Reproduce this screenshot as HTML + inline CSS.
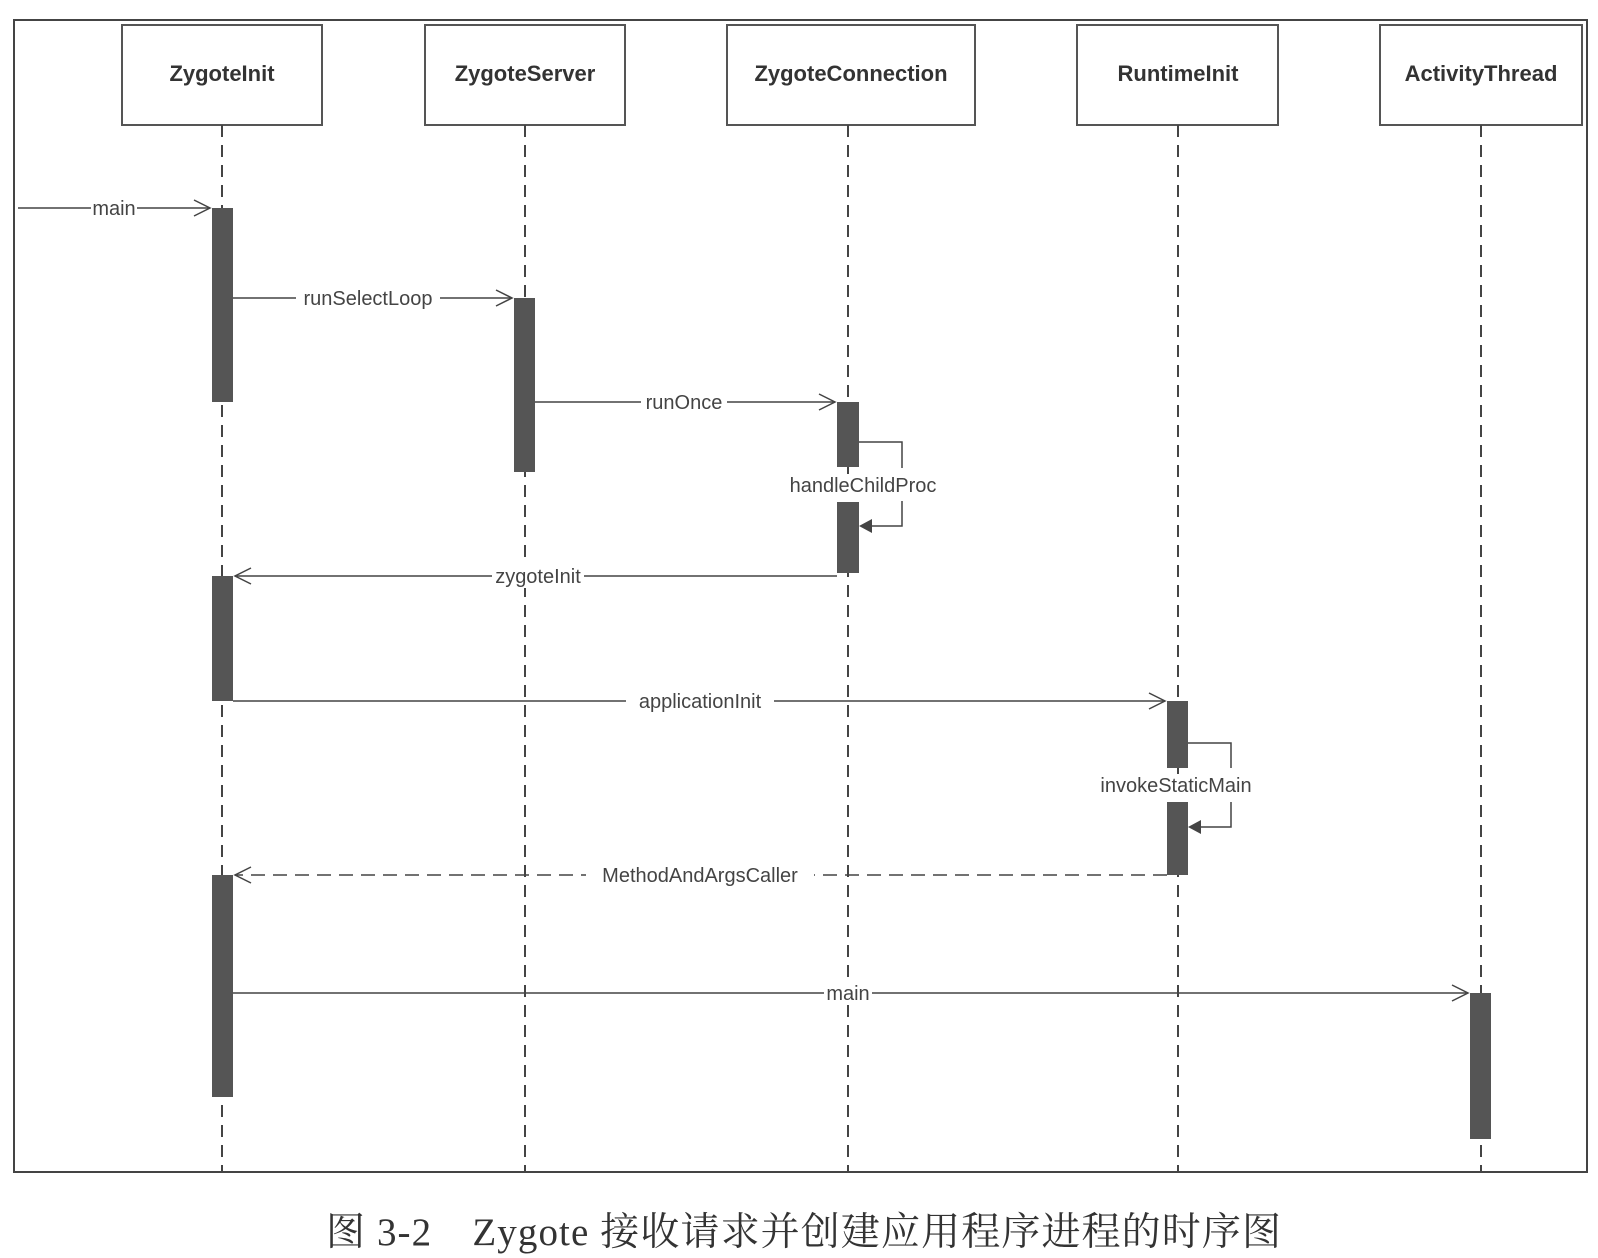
<!DOCTYPE html>
<html><head><meta charset="utf-8"><style>
html,body{margin:0;padding:0;background:#fff;}
svg{display:block;}
.h{font-family:"Liberation Sans",sans-serif;font-weight:bold;font-size:22px;fill:#333;}
.l{font-family:"Liberation Sans",sans-serif;font-size:20px;fill:#444;}
</style></head><body>
<svg width="1598" height="1258" viewBox="0 0 1598 1258" xmlns="http://www.w3.org/2000/svg">
<rect x="0" y="0" width="1598" height="1258" fill="#fff"/>
<rect x="14" y="20" width="1573" height="1152" fill="none" stroke="#444" stroke-width="2"/>
<g fill="#fff" stroke="#555" stroke-width="2">
<rect x="122" y="25" width="200" height="100"/>
<rect x="425" y="25" width="200" height="100"/>
<rect x="727" y="25" width="248" height="100"/>
<rect x="1077" y="25" width="201" height="100"/>
<rect x="1380" y="25" width="202" height="100"/>
</g>
<g class="h" text-anchor="middle">
<text x="222" y="81">ZygoteInit</text>
<text x="525" y="81">ZygoteServer</text>
<text x="851" y="81">ZygoteConnection</text>
<text x="1178" y="81">RuntimeInit</text>
<text x="1481" y="81">ActivityThread</text>
</g>
<g stroke="#444" stroke-width="2" stroke-dasharray="12,8">
<line x1="222" y1="125" x2="222" y2="1172"/>
<line x1="525" y1="125" x2="525" y2="1172"/>
<line x1="848" y1="125" x2="848" y2="1172"/>
<line x1="1178" y1="125" x2="1178" y2="1172"/>
<line x1="1481" y1="125" x2="1481" y2="1172"/>
</g>
<g fill="#555">
<rect x="212" y="208" width="21" height="194"/>
<rect x="212" y="576" width="21" height="125"/>
<rect x="212" y="875" width="21" height="222"/>
<rect x="514" y="298" width="21" height="174"/>
<rect x="837" y="402" width="22" height="65"/>
<rect x="837" y="502" width="22" height="71"/>
<rect x="1167" y="701" width="21" height="67"/>
<rect x="1167" y="802" width="21" height="73"/>
<rect x="1470" y="993" width="21" height="146"/>
</g>
<g stroke="#444" stroke-width="1.5" fill="none">
<line x1="18" y1="208" x2="210" y2="208"/><polyline points="194,200 210,208 194,216"/>
<line x1="233" y1="298" x2="512" y2="298"/><polyline points="496,290 512,298 496,306"/>
<line x1="535" y1="402" x2="835" y2="402"/><polyline points="819,394 835,402 819,410"/>
<polyline points="859,442 902,442 902,468"/><polyline points="902,501 902,526 870,526"/>
<line x1="837" y1="576" x2="235" y2="576"/><polyline points="251,568 235,576 251,584"/>
<line x1="233" y1="701" x2="1165" y2="701"/><polyline points="1149,693 1165,701 1149,709"/>
<polyline points="1188,743 1231,743 1231,768"/><polyline points="1231,802 1231,827 1200,827"/>
<line x1="1167" y1="875" x2="235" y2="875" stroke-dasharray="14,8"/><polyline points="251,867 235,875 251,883"/>
<line x1="233" y1="993" x2="1468" y2="993"/><polyline points="1452,985 1468,993 1452,1001"/>
</g>
<polygon points="859,526 872,519 872,533" fill="#444"/>
<polygon points="1188,827 1201,820 1201,834" fill="#444"/>
<g class="l" text-anchor="middle">
<rect x="91" y="196" width="46" height="24" fill="#fff"/><text x="114" y="215">main</text>
<rect x="296" y="286" width="144" height="24" fill="#fff"/><text x="368" y="305">runSelectLoop</text>
<rect x="641" y="390" width="86" height="24" fill="#fff"/><text x="684" y="409">runOnce</text>
<rect x="780" y="474" width="166" height="24" fill="#fff"/><text x="863" y="492">handleChildProc</text>
<rect x="492" y="564" width="92" height="24" fill="#fff"/><text x="538" y="583">zygoteInit</text>
<rect x="626" y="689" width="148" height="24" fill="#fff"/><text x="700" y="708">applicationInit</text>
<rect x="1096" y="774" width="162" height="24" fill="#fff"/><text x="1176" y="792">invokeStaticMain</text>
<rect x="586" y="863" width="228" height="24" fill="#fff"/><text x="700" y="882">MethodAndArgsCaller</text>
<rect x="824" y="981" width="48" height="24" fill="#fff"/><text x="848" y="1000">main</text>
</g>
<text x="326" y="1245" textLength="955" lengthAdjust="spacing" font-family="Liberation Serif,'Noto Serif CJK SC',serif" font-size="39" fill="#333">图 3-2　Zygote 接收请求并创建应用程序进程的时序图</text>
</svg>
</body></html>
